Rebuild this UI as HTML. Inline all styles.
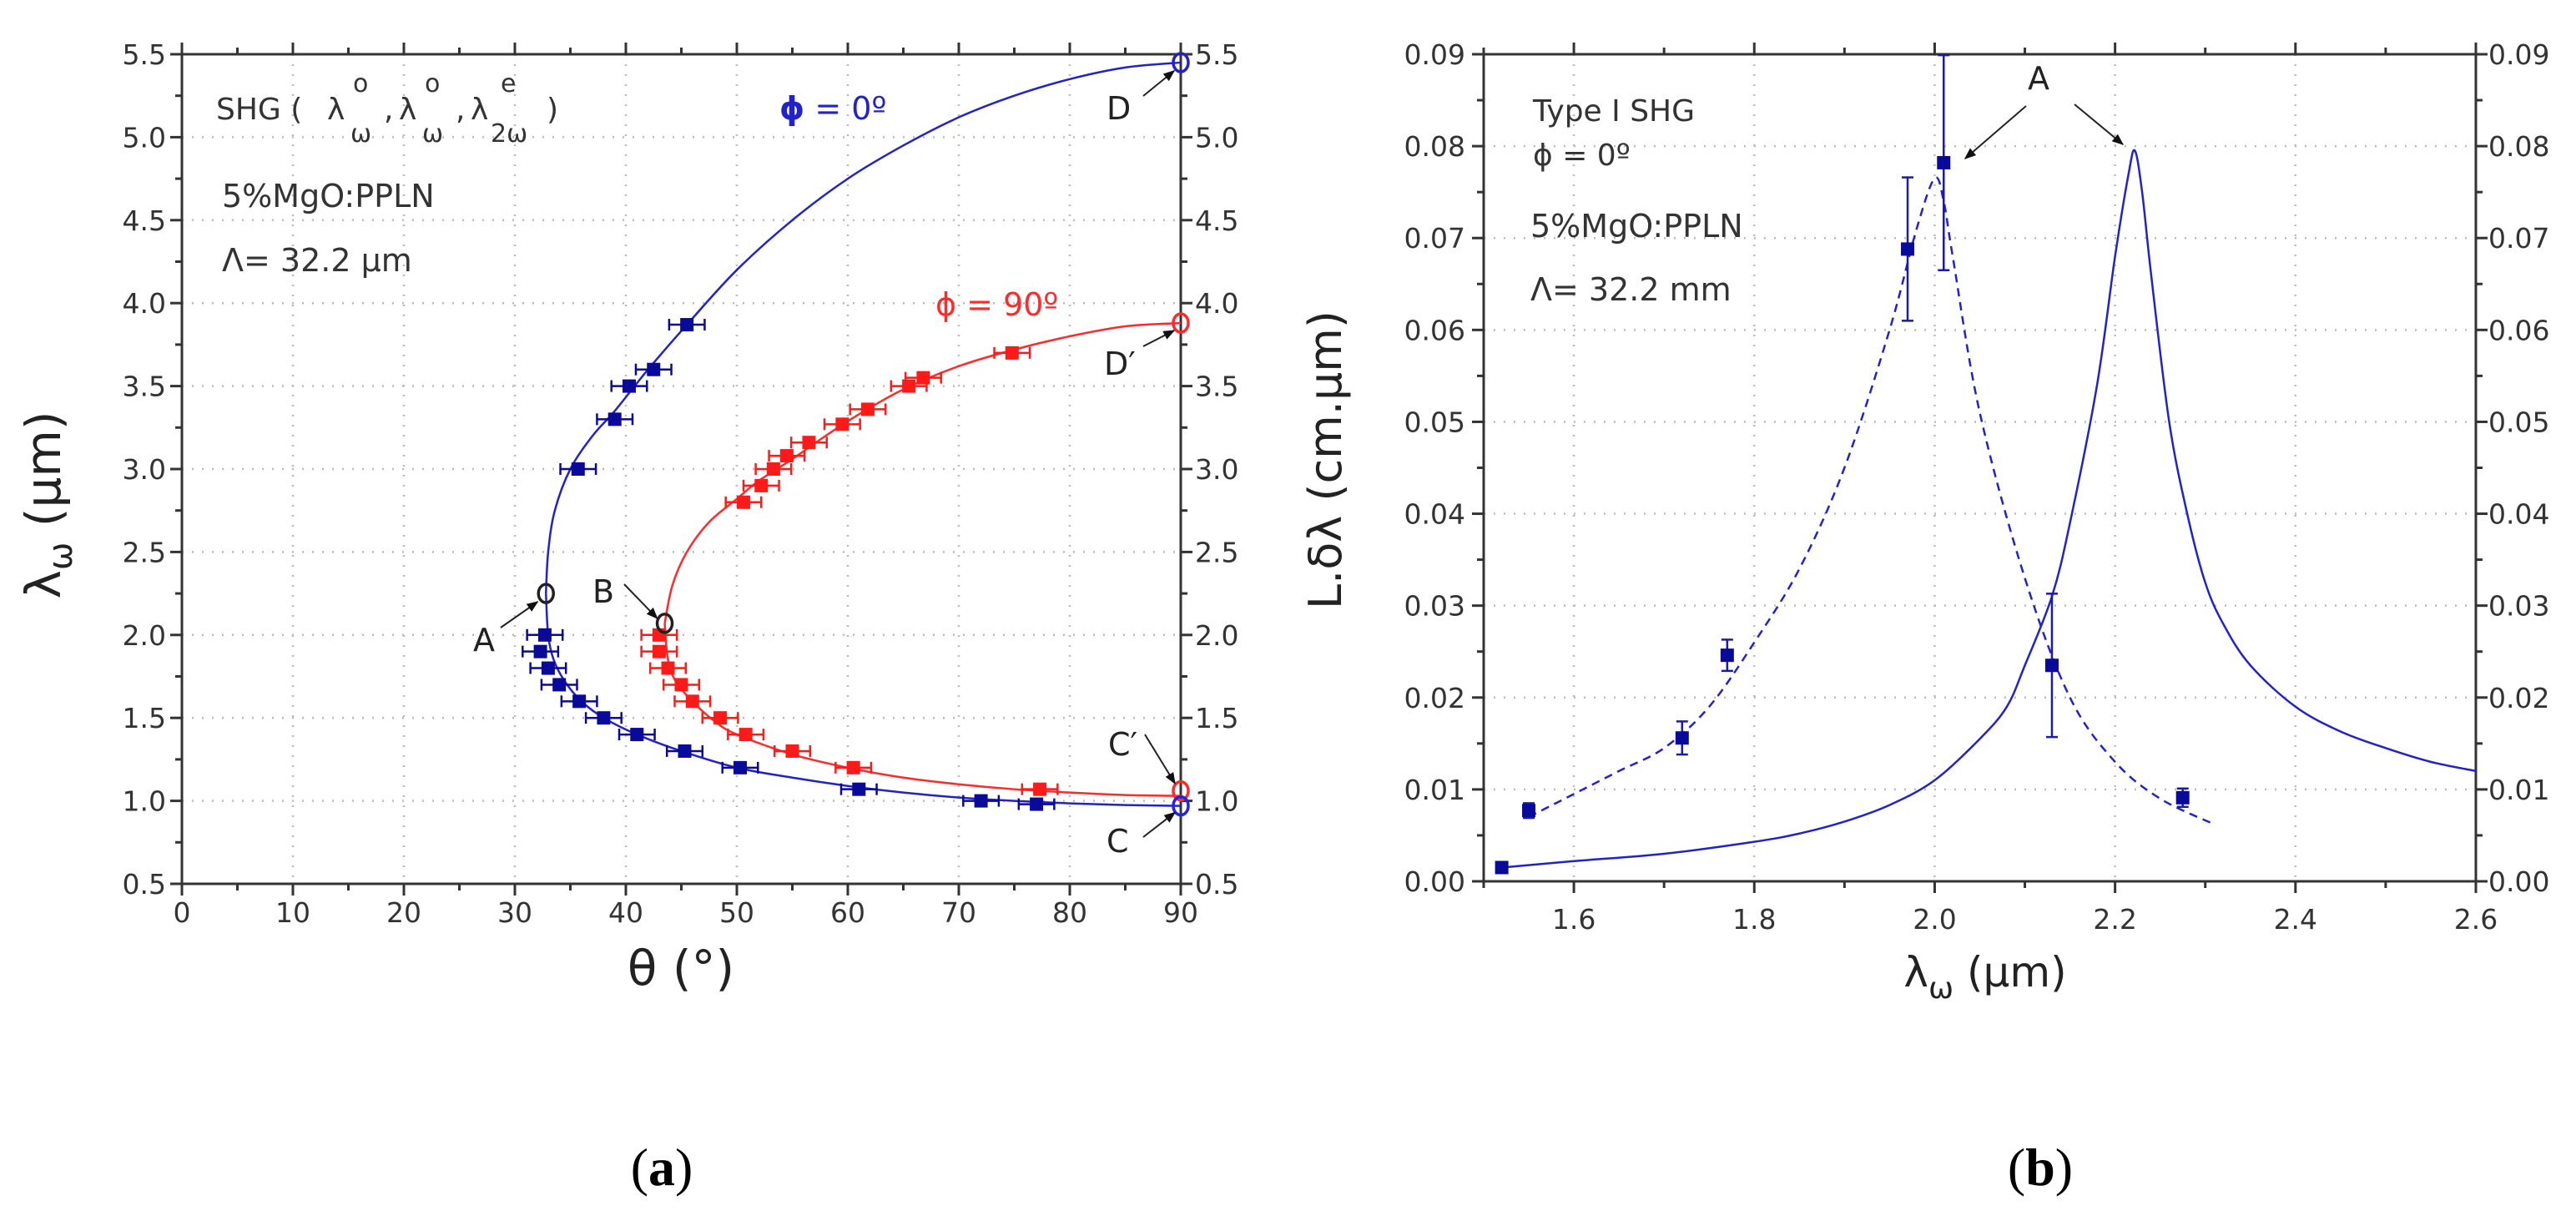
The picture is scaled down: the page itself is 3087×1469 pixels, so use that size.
<!DOCTYPE html>
<html><head><meta charset="utf-8"><style>
html,body{margin:0;padding:0;background:#fff;}
svg{display:block;font-family:"DejaVu Sans","Liberation Sans",sans-serif;}
</style></head><body>
<svg id="s" width="3087" height="1469" viewBox="0 0 3087 1469" xmlns="http://www.w3.org/2000/svg">
<defs>
<marker id="ah" viewBox="0 0 10 10" refX="9" refY="5" markerWidth="7" markerHeight="7" orient="auto"><path d="M0,1 L10,5 L0,9 z" fill="#111"/></marker>
</defs>
<g id="pa"></g>
<g id="pb"></g>
<text x="793" y="1420" font-family="Liberation Serif,serif" font-size="64" text-anchor="middle" fill="#000">(<tspan font-weight="bold">a</tspan>)</text>
<text x="2445" y="1420" font-family="Liberation Serif,serif" font-size="64" text-anchor="middle" fill="#000">(<tspan font-weight="bold">b</tspan>)</text>
</svg>
<script>
// ---- Chart A data ----
const aXTicks=[0,10,20,30,40,50,60,70,80,90];
const aYTicks=[0.5,1.0,1.5,2.0,2.5,3.0,3.5,4.0,4.5,5.0,5.5];
const blueTheta=[45.5,42.5,40.3,39,35.7,32.7,32.3,33,34,35.8,38,41,45.3,50.3,61,72,77];
const blueLambda=[3.87,3.6,3.5,3.3,3.0,2.0,1.9,1.8,1.7,1.6,1.5,1.4,1.3,1.2,1.07,1.0,0.98];
const redTheta=[43,43,43.8,45,46,48.5,50.8,55,60.5,77.3,50.6,52.2,53.3,54.5,56.5,59.5,61.8,65.5,66.8,74.8];
const redLambda=[2.0,1.9,1.8,1.7,1.6,1.5,1.4,1.3,1.2,1.07,2.8,2.9,3.0,3.08,3.16,3.27,3.36,3.5,3.55,3.7];
const blueUpperT=[32.8,33.0,33.6,35,37,39,42,45.5,50,55,60,65,70,75,80,85,90];
const blueUpperL=[2.25,2.5,2.75,3.0,3.2,3.35,3.6,3.87,4.2,4.5,4.75,4.95,5.12,5.25,5.35,5.42,5.45];
const blueLowerT=[32.8,33.0,33.5,34.5,36,38,41,45,50,55,60,65,70,75,80,85,90];
const blueLowerL=[2.25,2.0,1.85,1.72,1.6,1.5,1.4,1.3,1.2,1.14,1.09,1.05,1.02,1.0,0.985,0.975,0.97];
const redUpperT=[43.5,44.2,45.5,47.5,50,52,55,58,61,65,70,75,80,85,90];
const redUpperL=[2.07,2.3,2.5,2.68,2.82,2.93,3.06,3.2,3.33,3.48,3.62,3.72,3.8,3.86,3.88];
const redLowerT=[43.5,43.8,44.5,46,48,50,55,60,65,70,75,80,85,90];
const redLowerL=[2.07,1.85,1.72,1.6,1.48,1.4,1.28,1.2,1.14,1.1,1.07,1.05,1.035,1.03];
const aSpecialT=[32.8,43.5,90,90,90,90];
const aSpecialL=[2.25,2.07,5.45,3.88,1.06,0.97];
// ---- Chart B data ----
const bXTicks=[1.6,1.8,2.0,2.2,2.4,2.6];
const bYTicks=[0,0.01,0.02,0.03,0.04,0.05,0.06,0.07,0.08,0.09];
const ptX=[1.52,1.55,1.72,1.77,1.97,2.01,2.13,2.275];
const ptY=[0.0015,0.0077,0.0156,0.0246,0.0688,0.0782,0.0235,0.0091];
const ptErr=[0,0.0008,0.0018,0.0017,0.0078,0.0117,0.0078,0.001];
const solidX=[1.52,1.6,1.7,1.8,1.85,1.9,1.95,2.0,2.05,2.08,2.1,2.13,2.15,2.18,2.2,2.215,2.222,2.23,2.24,2.26,2.28,2.3,2.32,2.35,2.4,2.45,2.5,2.55,2.6];
const solidY=[0.0015,0.0022,0.003,0.0043,0.0052,0.0065,0.0083,0.011,0.0155,0.019,0.0235,0.031,0.039,0.054,0.068,0.077,0.0795,0.075,0.066,0.05,0.04,0.0325,0.028,0.0235,0.019,0.0163,0.0145,0.013,0.012];
const dashX=[1.55,1.6,1.65,1.7,1.75,1.8,1.85,1.9,1.95,1.98,2.0,2.01,2.02,2.05,2.1,2.15,2.2,2.25,2.31];
const dashY=[0.007,0.0095,0.012,0.0145,0.019,0.026,0.034,0.045,0.06,0.071,0.0765,0.074,0.068,0.051,0.033,0.02,0.013,0.009,0.0062];

const NS="http://www.w3.org/2000/svg";
function mk(parent,tag,attrs,text){const e=document.createElementNS(NS,tag);for(const k in attrs)e.setAttribute(k,attrs[k]);if(text!==undefined)e.textContent=text;parent.appendChild(e);return e;}
function smooth(pts){let d="M"+pts[0][0]+","+pts[0][1];for(let i=0;i<pts.length-1;i++){const p0=pts[Math.max(0,i-1)],p1=pts[i],p2=pts[i+1],p3=pts[Math.min(pts.length-1,i+2)];const c1=[p1[0]+(p2[0]-p0[0])/6,p1[1]+(p2[1]-p0[1])/6],c2=[p2[0]-(p3[0]-p1[0])/6,p2[1]-(p3[1]-p1[1])/6];d+=" C"+c1[0]+","+c1[1]+" "+c2[0]+","+c2[1]+" "+p2[0]+","+p2[1];}return d;}

// ===== Chart A =====
const A=document.getElementById('pa');
const aL=218,aR=1415,aT=65,aB=1059;
const ax=t=>aL+(t-0)/90*(aR-aL);
const ay=v=>aB-(v-0.5)/5*(aB-aT);
aXTicks.forEach(t=>{if(t>0&&t<90){const g=mk(A,'line',{x1:ax(t),x2:ax(t),y1:aT,y2:aB,stroke:'#bbb','stroke-width':2.5,'stroke-dasharray':'2 10'});

}});
aYTicks.forEach(v=>{if(v>0.5&&v<5.5){const g=mk(A,'line',{x1:aL,x2:aR,y1:ay(v),y2:ay(v),stroke:'#bbb','stroke-width':2.5,'stroke-dasharray':'2 10'});

}});
const aFrame=mk(A,'rect',{x:aL,y:aT,width:aR-aL,height:aB-aT,fill:'none',stroke:'#333','stroke-width':3});


for(let t=0;t<=90;t+=5){const maj=t%10===0;const L=maj?14:8;
mk(A,'line',{x1:ax(t),x2:ax(t),y1:aB,y2:aB+L,stroke:'#333','stroke-width':3});
mk(A,'line',{x1:ax(t),x2:ax(t),y1:aT,y2:aT-L,stroke:'#333','stroke-width':3});}
for(let v=0.5;v<=5.501;v+=0.25){const maj=Math.abs(v*2-Math.round(v*2))<1e-6;const L=maj?14:8;
mk(A,'line',{x1:aL-L,x2:aL,y1:ay(v),y2:ay(v),stroke:'#333','stroke-width':3});
mk(A,'line',{x1:aR,x2:aR+L,y1:ay(v),y2:ay(v),stroke:'#333','stroke-width':3});}
aXTicks.forEach(t=>{const e=mk(A,'text',{x:ax(t),y:1105,'font-size':33,'text-anchor':'middle',fill:'#333'},String(t));

});
aYTicks.forEach(v=>{const s=v.toFixed(1);
const e=mk(A,'text',{x:199,y:ay(v)+12,'font-size':33,'text-anchor':'end',fill:'#333'},s);


const e2=mk(A,'text',{x:1432,y:ay(v)+12,'font-size':33,'text-anchor':'start',fill:'#333'},s);

});
[[blueUpperT,blueUpperL,'#2222cc','blue-curve-upper'],[blueLowerT,blueLowerL,'#2222cc','blue-curve-lower'],[redUpperT,redUpperL,'#ff2a2a','red-curve-upper'],[redLowerT,redLowerL,'#ff2a2a','red-curve-lower']].forEach(c=>{
const pts=c[0].map((t,i)=>[ax(t),ay(c[1][i])]);
const p=mk(A,'path',{d:smooth(pts),fill:'none',stroke:c[2],'stroke-width':2.5});

});
function aPoints(T,Lm,col,name){T.forEach((t,i)=>{const x=ax(t),y=ay(Lm[i]);const e=1.6;
mk(A,'line',{x1:ax(t-e),x2:ax(t+e),y1:y,y2:y,stroke:col,'stroke-width':2.5});
mk(A,'line',{x1:ax(t-e),x2:ax(t-e),y1:y-7,y2:y+7,stroke:col,'stroke-width':2.5});
mk(A,'line',{x1:ax(t+e),x2:ax(t+e),y1:y-7,y2:y+7,stroke:col,'stroke-width':2.5});
const r=mk(A,'rect',{x:x-8,y:y-8,width:16,height:16,fill:col});

});}
aPoints(blueTheta,blueLambda,'#0a0a9a','blue-point');
aPoints(redTheta,redLambda,'#ff1a1a','red-point');
const specCols=['#222','#222','#2222cc','#ff2a2a','#ff2a2a','#2222ee'];
aSpecialT.forEach((t,i)=>{const c=mk(A,'ellipse',{cx:ax(t),cy:ay(aSpecialL[i]),rx:9,ry:11,fill:'none',stroke:specCols[i],'stroke-width':3.5});

});
[[600,752,ax(32.8)-10,ay(2.25)+10],[748,700,ax(43.5)-9,ay(2.07)-6],[1370,115,ax(90)-8,ay(5.45)+10],[1370,415,ax(90)-8,ay(3.88)+9],[1372,880,ax(90)-7,ay(1.06)-9],[1370,1003,ax(90)-7,ay(0.97)+8]].forEach(a=>{
const l=mk(A,'line',{x1:a[0],y1:a[1],x2:a[2],y2:a[3],stroke:'#222','stroke-width':2,'marker-end':'url(#ah)'});

});
const aLabels=[['A',567,780],['B',710,722],['D',1326,143],['D\u2032',1323,449],['C\u2032',1328,905],['C',1326,1021]];
aLabels.forEach(s=>{const e=mk(A,'text',{x:s[1],y:s[2],'font-size':38,fill:'#222'},s[0]);

});
document.getElementById('pa').insertAdjacentHTML('beforeend',`
<g font-size="36" fill="#333">
<text x="259" y="143">SHG (</text>
<text x="392" y="143">λ</text><text x="420" y="170" font-size="30">ω</text><text x="423" y="110" font-size="30">o</text><text x="460" y="143">,</text>
<text x="478" y="143">λ</text><text x="506" y="170" font-size="30">ω</text><text x="509" y="110" font-size="30">o</text><text x="546" y="143">,</text>
<text x="564" y="143">λ</text><text x="588" y="170" font-size="30">2ω</text><text x="600" y="110" font-size="30">e</text><text x="655" y="143">)</text>
</g>
<text x="266" y="248" font-size="38" fill="#333">5%MgO:PPLN</text>
<text x="266" y="325" font-size="38" fill="#333">Λ= 32.2 μm</text>
<text x="934" y="143" font-size="38" fill="#2222cc"><tspan font-weight="bold">ϕ</tspan> = 0º</text>
<text x="1121" y="378" font-size="38" fill="#ff2a2a">ϕ = 90º</text>
<text x="816" y="1180" font-size="58" fill="#222" text-anchor="middle">θ (°)</text>
<text transform="translate(72,605) rotate(-90)" font-size="58" fill="#222" text-anchor="middle">λ<tspan font-size="40" dy="14">ω</tspan><tspan dy="-14"> (μm)</tspan></text>`);

// ===== Chart B =====
const B=document.getElementById('pb');
const bL=1778,bR=2967,bT=65,bB=1056;
const bx=v=>bL+(v-1.5)/1.1*(bR-bL);
const by=v=>bB-v/0.09*(bB-bT);
bXTicks.forEach(t=>{if(t<2.6){const g=mk(B,'line',{x1:bx(t),x2:bx(t),y1:bT,y2:bB,stroke:'#bbb','stroke-width':2.5,'stroke-dasharray':'2 10'});

}});
bYTicks.forEach(v=>{if(v>0&&v<0.09){const g=mk(B,'line',{x1:bL,x2:bR,y1:by(v),y2:by(v),stroke:'#bbb','stroke-width':2.5,'stroke-dasharray':'2 10'});

}});
const bFrame=mk(B,'rect',{x:bL,y:bT,width:bR-bL,height:bB-bT,fill:'none',stroke:'#333','stroke-width':3});


for(let i=0;i<=11;i++){const t=1.5+i*0.1;const maj=i%2===1;const L=maj?14:8;
mk(B,'line',{x1:bx(t),x2:bx(t),y1:bB,y2:bB+L,stroke:'#333','stroke-width':3});
mk(B,'line',{x1:bx(t),x2:bx(t),y1:bT,y2:bT-L,stroke:'#333','stroke-width':3});}
for(let i=0;i<=18;i++){const v=i*0.005;const L=i%2===0?14:8;
mk(B,'line',{x1:bL-L,x2:bL,y1:by(v),y2:by(v),stroke:'#333','stroke-width':3});
mk(B,'line',{x1:bR,x2:bR+L,y1:by(v),y2:by(v),stroke:'#333','stroke-width':3});}
bXTicks.forEach(t=>{const e=mk(B,'text',{x:bx(t),y:1113,'font-size':33,'text-anchor':'middle',fill:'#333'},t.toFixed(1));

});
bYTicks.forEach(v=>{const s=v.toFixed(2);
const e=mk(B,'text',{x:1756,y:by(v)+12,'font-size':33,'text-anchor':'end',fill:'#333'},s);


const e2=mk(B,'text',{x:2982,y:by(v)+12,'font-size':33,'text-anchor':'start',fill:'#333'},s);

});
const sp=mk(B,'path',{d:smooth(solidX.map((x,i)=>[bx(x),by(solidY[i])])),fill:'none',stroke:'#2222cc','stroke-width':2.5});


const dp=mk(B,'path',{d:smooth(dashX.map((x,i)=>[bx(x),by(dashY[i])])),fill:'none',stroke:'#2222cc','stroke-width':2.5,'stroke-dasharray':'10 7'});


ptX.forEach((x,i)=>{const X=bx(x),Y=by(ptY[i]),e=ptErr[i];
if(e>0){mk(B,'line',{x1:X,x2:X,y1:by(ptY[i]+e),y2:by(ptY[i]-e),stroke:'#1a1aaa','stroke-width':2.5});
mk(B,'line',{x1:X-7,x2:X+7,y1:by(ptY[i]+e),y2:by(ptY[i]+e),stroke:'#1a1aaa','stroke-width':2.5});
mk(B,'line',{x1:X-7,x2:X+7,y1:by(ptY[i]-e),y2:by(ptY[i]-e),stroke:'#1a1aaa','stroke-width':2.5});}
const r=mk(B,'rect',{x:X-8,y:Y-8,width:16,height:16,fill:'#0a0a9a'});

});
[[2428,127,2355,190],[2486,125,2544,173]].forEach(a=>{
const l=mk(B,'line',{x1:a[0],y1:a[1],x2:a[2],y2:a[3],stroke:'#222','stroke-width':2,'marker-end':'url(#ah)'});

});
document.getElementById('pb').insertAdjacentHTML('beforeend',`
<text x="2443" y="107" font-size="38" fill="#222" text-anchor="middle">A</text>
<text x="1837" y="145" font-size="36" fill="#333">Type I SHG</text>
<text x="1837" y="198" font-size="36" fill="#333">ϕ = 0º</text>
<text x="1834" y="284" font-size="38" fill="#333">5%MgO:PPLN</text>
<text x="1834" y="360" font-size="38" fill="#333">Λ= 32.2 mm</text>
<text x="2379" y="1182" font-size="50" fill="#222" text-anchor="middle">λ<tspan font-size="36" dy="14">ω</tspan><tspan dy="-14"> (μm)</tspan></text>
<text transform="translate(1607,551) rotate(-90)" font-size="54" fill="#222" text-anchor="middle">L.δλ (cm.μm)</text>`);
</script>
</body></html>
